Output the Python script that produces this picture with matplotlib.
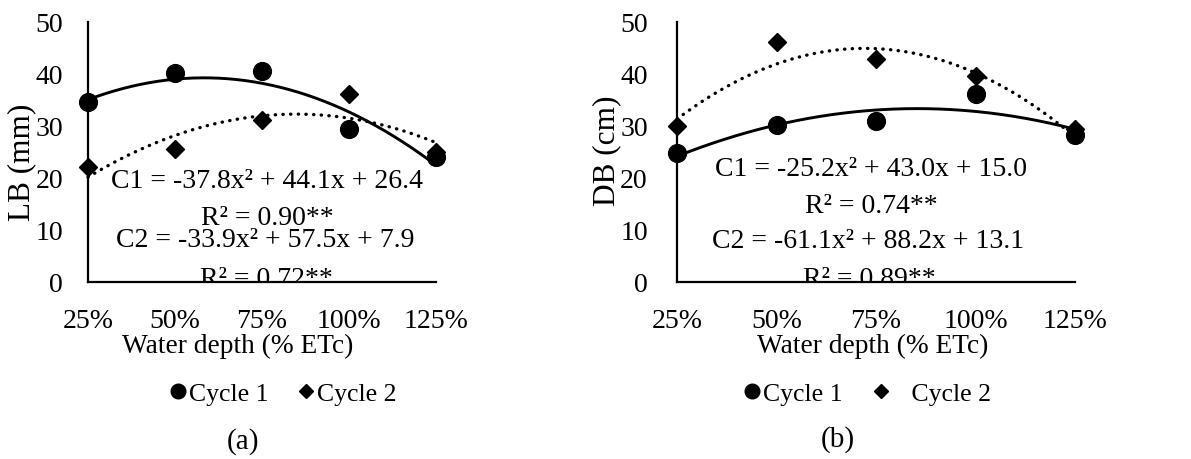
import numpy as np
import matplotlib
matplotlib.use("Agg")
import matplotlib.pyplot as plt
from matplotlib.lines import Line2D

plt.rcParams['font.family'] = ['Liberation Serif', 'DejaVu Serif']

# ---- data ----
x_vals = [0.25, 0.50, 0.75, 1.00, 1.25]
x_labels = ['25%', '50%', '75%', '100%', '125%']

lb_cycle1 = [34.6, 40.1, 40.5, 29.4, 24.0]
lb_cycle2 = [22.1, 25.5, 31.1, 36.1, 25.0]
lb_coef_c1 = [-37.8, 44.1, 26.4]
lb_coef_c2 = [-33.9, 57.5, 7.9]
lb_eq = ['C1 = -37.8x² + 44.1x + 26.4', 'R² = 0.90**',
         'C2 = -33.9x² + 57.5x + 7.9', 'R² = 0.72**']

db_cycle1 = [24.9, 30.1, 30.9, 36.2, 28.3]
db_cycle2 = [30.0, 46.2, 42.8, 39.7, 29.4]
db_coef_c1 = [-25.2, 43.0, 15.0]
db_coef_c2 = [-61.1, 88.2, 13.1]
db_eq = ['C1 = -25.2x² + 43.0x + 15.0', 'R² = 0.74**',
         'C2 = -61.1x² + 88.2x + 13.1', 'R² = 0.89**']

y_ticks = [0, 10, 20, 30, 40, 50]

FS = 20
W, H = 1191, 460
fig = plt.figure(figsize=(W / 100, H / 100), dpi=100)


def make_axes(left_px, right_px):
    return fig.add_axes([left_px / W, (H - 283) / H, (right_px - left_px) / W, 260 / H])


def draw(ax, c1, c2, coef1, coef2, ylabel, ylab_xy, xlab_x, eqs, eq_x, eq_y,
         leg_xy, leg_labels, ytick_pad):
    xs = np.linspace(x_vals[0], x_vals[-1], 200)
    ax.plot(xs, np.polyval(coef1, xs), color='black', lw=2.1, solid_capstyle='round',
            clip_on=False, zorder=2)
    ax.plot(xs, np.polyval(coef2, xs), color='black', lw=2.4,
            linestyle=(0, (0.1, 2.2)), dash_capstyle='round', clip_on=False, zorder=2)
    ax.plot(x_vals, c1, linestyle='none', marker='o', ms=12.8, color='black',
            clip_on=False, zorder=3)
    ax.plot(x_vals, c2, linestyle='none', marker='D', ms=9.2, color='black',
            clip_on=False, zorder=3)

    ax.set_xlim(x_vals[0], x_vals[-1])
    ax.set_ylim(0, 50)
    ax.set_xticks(x_vals)
    ax.set_xticklabels(x_labels)
    ax.set_yticks(y_ticks)
    ax.tick_params(axis='both', length=0, labelsize=FS)
    ax.tick_params(axis='x', pad=19)
    ax.tick_params(axis='y', pad=ytick_pad)
    for s in ['top', 'right']:
        ax.spines[s].set_visible(False)
    for s in ['left', 'bottom']:
        ax.spines[s].set_linewidth(1.6)
        ax.spines[s].set_zorder(5)
    ax.set_facecolor('none')

    ax.set_ylabel(ylabel, fontsize=22.5)
    ax.yaxis.set_label_coords(*ylab_xy)
    ax.yaxis.label.set_va('center')
    ax.set_xlabel('Water depth (% ETc)', fontsize=19.7)
    ax.xaxis.set_label_coords(xlab_x, -0.245)
    ax.xaxis.label.set_va('center')

    for t, xx, yy in zip(eqs, eq_x, eq_y):
        ax.text(xx, yy, t, transform=ax.transAxes, ha='center', va='baseline',
                fontsize=FS, zorder=4, clip_on=True)

    handles = [Line2D([], [], linestyle='none', marker='o', ms=10.5, color='black'),
               Line2D([], [], linestyle='none', marker='D', ms=7.5, color='black')]
    ax.legend(handles, leg_labels, loc='center', bbox_to_anchor=leg_xy,
              ncol=2, frameon=False, fontsize=18.5, handlelength=0.55,
              handletextpad=0.15, columnspacing=1.2, borderpad=0, borderaxespad=0)


ax_a = make_axes(88, 436)
draw(ax_a, lb_cycle1, lb_cycle2, lb_coef_c1, lb_coef_c2, 'LB (mm)', (-0.19, 0.465), 0.431,
     lb_eq, [0.514, 0.514, 0.508, 0.514], [0.365, 0.223, 0.138, -0.012],
     (0.563, -0.43), ['Cycle 1', 'Cycle 2'], 18)

ax_b = make_axes(677, 1075)
draw(ax_b, db_cycle1, db_cycle2, db_coef_c1, db_coef_c2, 'DB (cm)', (-0.176, 0.51), 0.492,
     db_eq, [0.487, 0.487, 0.480, 0.482], [0.41, 0.27, 0.135, -0.012],
     (0.48, -0.43), ['Cycle 1', '   Cycle 2'], 21)

fig.text(243 / W, 1 - 442 / H, '(a)', ha='center', va='center', fontsize=21)
fig.text(838 / W, 1 - 440 / H, '(b)', ha='center', va='center', fontsize=21)

fig.savefig('out.png', dpi=100, facecolor='white')
